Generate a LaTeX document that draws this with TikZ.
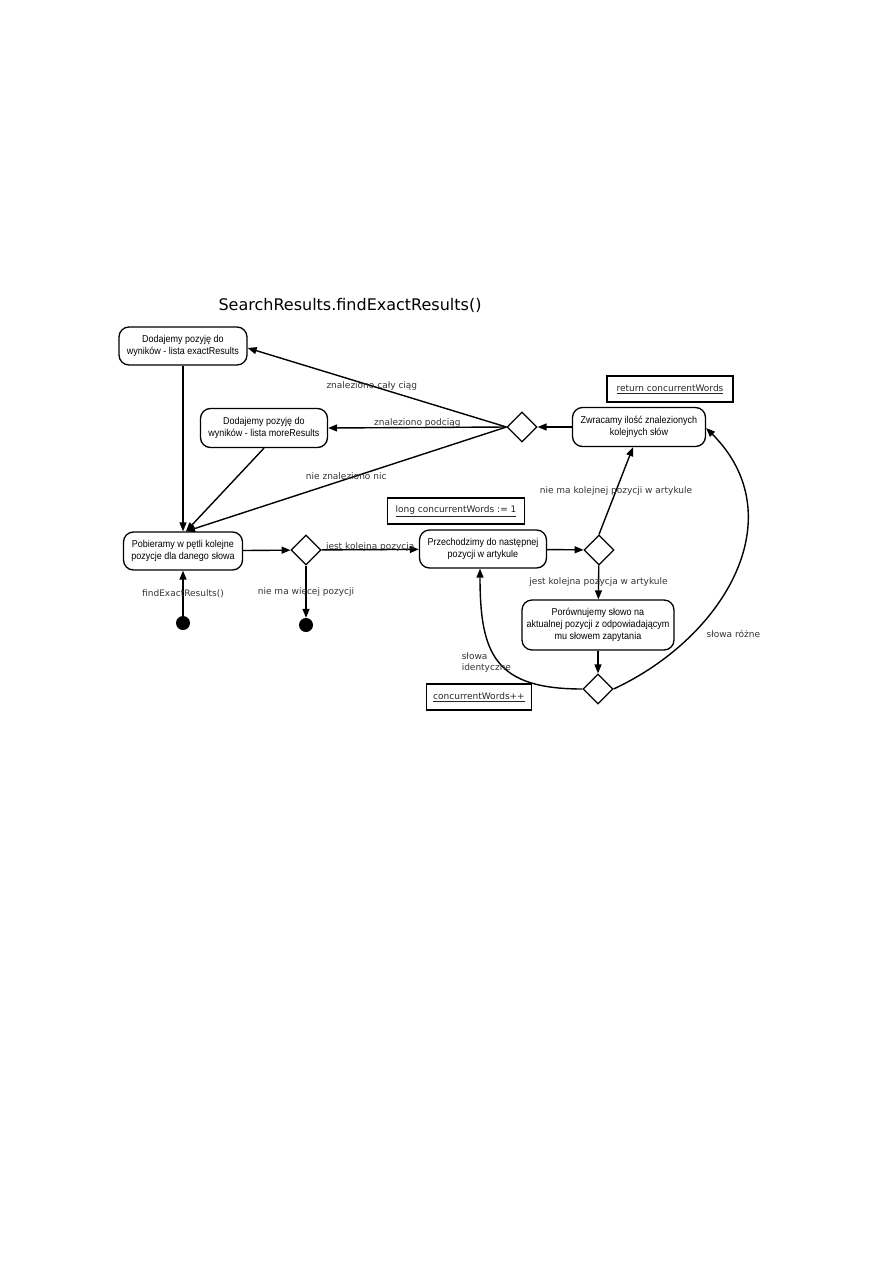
\documentclass[tikz,border=0pt]{standalone}
\usepackage{fontspec}
\setmainfont{DejaVu Sans}
\newfontfamily\boxfont[FakeStretch=0.9]{Liberation Sans}
\usetikzlibrary{arrows.meta,shapes.geometric,positioning}

\begin{document}
\begin{tikzpicture}[x=1pt, y=-1pt,
    every node/.style={font=\fontsize{9}{11}\selectfont, text=black!85},
    action/.style={rectangle, draw, line width=1.3pt, rounded corners=10pt, align=center, font=\boxfont\fontsize{10}{12}\selectfont, text=black, minimum height=38pt, inner sep=2pt},
    choice/.style={diamond, draw, line width=1.2pt, minimum width=30pt, minimum height=30pt, inner sep=0pt},
    dot/.style={circle, fill=black, minimum size=14pt, inner sep=0pt},
    note/.style={rectangle, draw, line width=1.5pt, minimum height=26pt, inner sep=4pt},
    flow/.style={-{Triangle[length=9pt,width=7pt]}, line width=1.4pt},
    lbl/.style={font=\fontsize{9}{11}\selectfont, text=black!80, inner sep=1pt}]
    \useasboundingbox (0,0) rectangle (893,1263);
    % title
    \node[font=\fontsize{16}{18}\selectfont, text=black] (title) at (350,305) {SearchResults.findExactResults()};
    % actions and decisions
    \node[action, minimum width=128pt] (exact) at (183,346) {Dodajemy pozyję do\\wyników - lista exactResults};
    \node[action, minimum width=127pt, minimum height=39pt] (more) at (264,428) {Dodajemy pozyję do\\wyników - lista moreResults};
    \node[action, minimum width=119pt] (fetch) at (183,551) {Pobieramy w pętli kolejne\\pozycje dla danego słowa};
    \node[choice] (hasnext) at (306,550) {};
    \node[dot] (start) at (183,623) {};
    \node[dot] (stop) at (306,625) {};
    \node[action, minimum width=127pt] (advance) at (483,549) {Przechodzimy do następnej\\pozycji w artykule};
    \node[choice] (inarticle) at (599,550) {};
    \node[action, minimum width=152pt, minimum height=50pt] (compare) at (598,625) {Porównujemy słowo na\\aktualnej pozycji z odpowiadającym\\mu słowem zapytania};
    \node[choice] (same) at (598,689) {};
    \node[action, minimum width=133pt, minimum height=39pt] (count) at (639,427) {Zwracamy ilość znalezionych\\kolejnych słów};
    \node[choice] (found) at (522,427) {};
    % notes
    \node[note, minimum width=126pt] (ret) at (670,389) {\underline{return concurrentWords}};
    \node[note, minimum width=137pt] (init) at (456,511) {\underline{long concurrentWords := 1}};
    \node[note, minimum width=105pt] (incr) at (479,697) {\underline{concurrentWords++}};
    % flows
    \draw[flow] (found.west) -- node[lbl, pos=0.52] {znaleziono cały ciąg} ([yshift=-2pt]exact.east);
    \draw[flow] (found.west) -- node[lbl, midway, yshift=4pt] {znaleziono podciąg} (more.east);
    \draw[flow] (found.west) -- node[lbl, pos=0.5, yshift=3pt] {nie znaleziono nic} ([xshift=3pt]fetch.north);
    \draw[flow] (exact.south) -- (exact.south |- fetch.north);
    \draw[flow] (more.south) -- ([xshift=3pt]fetch.north);
    \draw[flow] (fetch) -- (hasnext);
    \draw[flow] (hasnext) -- node[lbl, midway, yshift=3pt] {jest kolejna pozycja} (advance);
    \draw[flow] (hasnext) -- node[lbl, midway] {nie ma więcej pozycji} (stop);
    \draw[flow] (start) -- node[lbl, midway] {findExactResults()} (fetch);
    \draw[flow] (advance) -- (inarticle);
    \draw[flow] (inarticle.north) -- node[lbl, midway] {nie ma kolejnej pozycji w artykule} ([xshift=-6pt]count.south);
    \draw[flow] (inarticle) -- node[lbl, midway] {jest kolejna pozycja w artykule} (compare);
    \draw[flow] (compare) -- (same);
    \draw[flow] (same.west) to[out=180, in=-90, looseness=1.4] node[lbl, pos=0.42, anchor=east, align=left, xshift=6pt, yshift=7pt] {słowa\\identyczne} ([xshift=-3pt]advance.south);
    \draw[flow] (same.east) to[out=25, in=-45, looseness=1.15] node[lbl, pos=0.27, anchor=west, xshift=12pt] {słowa różne} ([yshift=-1pt]count.east);
    \draw[flow] (count) -- (found);
\end{tikzpicture}
\end{document}
